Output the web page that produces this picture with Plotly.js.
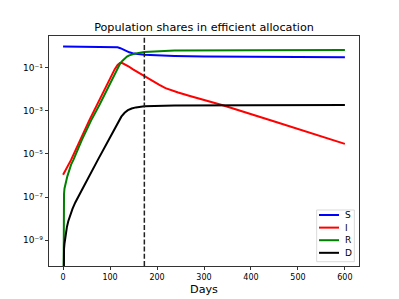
<!DOCTYPE html>
<html><head><meta charset="utf-8">
<script src="https://cdn.plot.ly/plotly-3.0.1.min.js"></script>
<style>html,body{margin:0;padding:0;background:#fff}#chart{width:399px;height:299px}</style>
</head><body><div id="chart"></div>
<script>
// Titles and labels
const chartTitle = "Population shares in efficient allocation";
const xLabel = "Days";
const seriesNames = ["S", "I", "R", "D"];
const seriesColors = ["#0000ff", "#ff0000", "#008000", "#000000"];

// Values, as log10 of the population share (null = share of 0)
const sDays  = [0, 100, 110, 116, 122, 128, 134, 141, 148, 155, 173, 205, 237, 300, 400, 600];
const sLog10 = [-0.034, -0.036, -0.05, -0.07, -0.11, -0.18, -0.25, -0.30, -0.34, -0.37, -0.41, -0.45, -0.47, -0.50, -0.52, -0.53];

const iDays  = [0, 17, 56, 100, 110, 116, 121, 126, 132, 140, 148, 160, 173, 190, 205, 218, 230, 245, 270, 340, 450, 600];
const iLog10 = [-5.97, -5.28, -3.44, -1.50, -1.08, -0.88, -0.80, -0.80, -0.86, -0.96, -1.08, -1.24, -1.41, -1.62, -1.81, -1.96, -2.06, -2.16, -2.32, -2.75, -3.50, -4.54];

const rDays  = [0, 1, 2, 3, 6, 9, 17, 22, 40, 60, 77, 100, 112, 118, 122, 126, 130, 136, 141, 148, 155, 173, 205, 237, 400, 600];
const rLog10 = [null, -7.3, -6.85, -6.6, -6.25, -6.04, -5.5, -5.28, -4.35, -3.44, -2.75, -1.72, -1.2, -0.92, -0.80, -0.70, -0.60, -0.50, -0.44, -0.38, -0.35, -0.29, -0.25, -0.22, -0.20, -0.19];

const dDays  = [0, 1, 2, 3, 4, 6, 8, 11, 15, 20, 26, 33, 40, 74, 100, 113, 119, 124, 131, 138, 146, 155, 173, 237, 400, 600];
const dLog10 = [null, -9.66, -9.4, -9.15, -8.95, -8.65, -8.4, -8.12, -7.85, -7.55, -7.25, -6.95, -6.67, -5.28, -4.22, -3.67, -3.45, -3.28, -3.1, -2.98, -2.9, -2.85, -2.80, -2.76, -2.745, -2.74];

const policyDay = 173;

const xTickVals = [0, 100, 200, 300, 400, 500, 600];
const yTickVals = [1e-9, 1e-7, 1e-5, 1e-3, 1e-1];
const yTickText = ["10⁻⁹", "10⁻⁷", "10⁻⁵", "10⁻³", "10⁻¹"];

// A share of 0 is clipped to a tiny value so the line runs off the bottom, as on a log axis
function toShare(arr) { return arr.map(v => v === null ? 1e-15 : Math.pow(10, v)); }

const allDays = [sDays, iDays, rDays, dDays];
const allLogs = [sLog10, iLog10, rLog10, dLog10];

const traces = seriesNames.map((name, k) => ({
  x: allDays[k], y: toShare(allLogs[k]), name: name, type: "scatter", mode: "lines",
  line: {color: seriesColors[k], width: 2}, showlegend: false
}));

const font = "DejaVu Sans, sans-serif";

// Legend drawn as a compact box in the lower-right corner (paper coordinates)
const legBox = {x0: 0.8635, x1: 0.985, y0: 0.0187, y1: 0.2435};
const legRowTop = 0.2217, legRowStep = 0.0548;
const legLineX = [0.871, 0.9355], legTextX = 0.950;
const shapes = [
  {type: "line", xref: "x", yref: "paper", x0: policyDay, x1: policyDay, y0: 0, y1: 1,
   line: {color: "#222", width: 1.5, dash: "5px,2.2px"}},
  {type: "rect", xref: "paper", yref: "paper", x0: legBox.x0, x1: legBox.x1, y0: legBox.y0, y1: legBox.y1,
   line: {color: "#d0d0d0", width: 0.8}, fillcolor: "rgba(255,255,255,0.8)", layer: "above"}
];
const annotations = [];
seriesNames.forEach((name, k) => {
  const yy = legRowTop - k * legRowStep;
  shapes.push({type: "line", xref: "paper", yref: "paper", x0: legLineX[0], x1: legLineX[1], y0: yy, y1: yy,
               line: {color: seriesColors[k], width: 2}, layer: "above"});
  annotations.push({xref: "paper", yref: "paper", x: legTextX, y: yy, text: name, showarrow: false,
                    xanchor: "left", yanchor: "middle", borderpad: 0,
                    font: {family: font, size: 9, color: "#000"}});
});

const layout = {
  width: 399, height: 299,
  margin: {l: 49, r: 40, t: 36, b: 33, pad: 0},
  paper_bgcolor: "#fff", plot_bgcolor: "#fff",
  font: {family: font, color: "#000", size: 8},
  title: {text: chartTitle, font: {family: font, size: 11.2, color: "#000"},
          x: 0.5, xref: "paper", xanchor: "center", y: 0.911, yref: "container", yanchor: "middle"},
  showlegend: false,
  xaxis: {range: [-30, 630], tickvals: xTickVals, ticks: "outside", ticklen: 3.5, tickwidth: 0.8,
          tickcolor: "#000", showline: true, linecolor: "#000", linewidth: 0.8, mirror: true,
          showgrid: false, zeroline: false, tickfont: {family: font, size: 8, color: "#000"},
          title: {text: xLabel, font: {family: font, size: 11.2, color: "#000"}, standoff: 4}},
  yaxis: {type: "log", range: [-10.19, 0.454], tickvals: yTickVals, ticktext: yTickText,
          ticks: "outside", ticklen: 3.5, tickwidth: 0.8, tickcolor: "#000",
          showline: true, linecolor: "#000", linewidth: 0.8, mirror: true,
          showgrid: false, zeroline: false, tickfont: {family: font, size: 9, color: "#000"}},
  shapes: shapes,
  annotations: annotations
};

Plotly.newPlot("chart", traces, layout, {displayModeBar: false, staticPlot: true});
</script>
</body></html>
